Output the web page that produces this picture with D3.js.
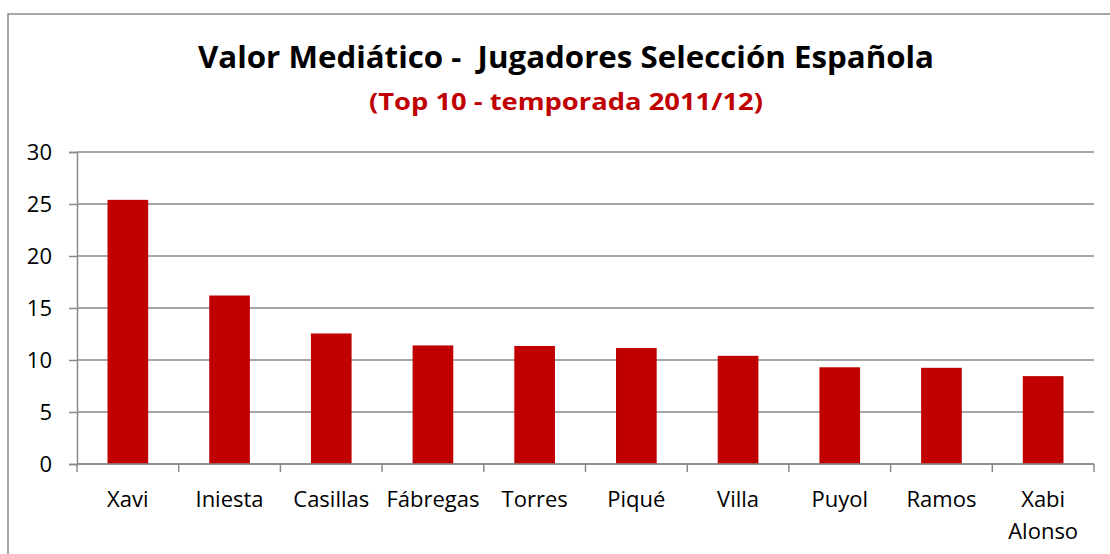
<!DOCTYPE html>
<html>
<head>
<meta charset="utf-8">
<script src="https://cdn.jsdelivr.net/npm/d3@7"></script>
<style>
  body { margin: 0; background: #fff; }
  svg { display: block; font-family: "Open Sans", sans-serif; }
  .titulo { white-space: pre; }
</style>
</head>
<body>
<script>
const jugadores = ["Xavi", "Iniesta", "Casillas", "Fábregas", "Torres", "Piqué", "Villa", "Puyol", "Ramos", "Xabi Alonso"];
const valores = [25.4, 16.2, 12.55, 11.4, 11.35, 11.15, 10.4, 9.3, 9.25, 8.45];
const yTicks = [0, 5, 10, 15, 20, 25, 30];
const titulo = "Valor Mediático -  Jugadores Selección Española";
const subtitulo = "(Top 10 - temporada 2011/12)";

const width = 1110, height = 554;
const gray = "#898989";

const svg = d3.select("body").append("svg")
    .attr("width", width)
    .attr("height", height);

// marco del gráfico (sale por la derecha y por abajo)
svg.append("rect")
    .attr("x", 8).attr("y", 14)
    .attr("width", 1140).attr("height", 600)
    .attr("fill", "none")
    .attr("stroke", gray)
    .attr("stroke-width", 1.5);

const x = d3.scaleBand()
    .domain(jugadores)
    .range([77, 1094])
    .padding(0);

const y = d3.scaleLinear()
    .domain([0, 30])
    .range([464, 152]);

// titulos
svg.append("text")
    .attr("class", "titulo")
    .attr("x", 566).attr("y", 68)
    .attr("text-anchor", "middle")
    .attr("font-size", 31)
    .attr("font-weight", "bold")
    .attr("textLength", 736)
    .attr("lengthAdjust", "spacingAndGlyphs")
    .attr("fill", "#000")
    .text(titulo);

svg.append("text")
    .attr("x", 566).attr("y", 110)
    .attr("text-anchor", "middle")
    .attr("font-size", 24)
    .attr("font-weight", "bold")
    .attr("textLength", 394)
    .attr("lengthAdjust", "spacingAndGlyphs")
    .attr("fill", "#C00000")
    .text(subtitulo);

// lineas de cuadricula
svg.append("g")
  .selectAll("line")
  .data(yTicks)
  .join("line")
    .attr("x1", x.range()[0])
    .attr("x2", x.range()[1])
    .attr("y1", d => y(d))
    .attr("y2", d => y(d))
    .attr("stroke", gray)
    .attr("stroke-width", 1.5);

// eje Y
const yAxis = svg.append("g")
    .attr("transform", `translate(${x.range()[0]},0)`)
    .call(d3.axisLeft(y).tickValues(yTicks).tickSize(8).tickPadding(17).tickFormat(d3.format("d")));
yAxis.select(".domain").attr("stroke", gray).attr("stroke-width", 1.5);
yAxis.selectAll(".tick line").attr("stroke", gray).attr("stroke-width", 1.5);
yAxis.selectAll(".tick text")
    .attr("font-size", 22)
    .attr("font-family", "Open Sans, sans-serif")
    .attr("fill", "#000");

// barras
svg.append("g")
  .selectAll("rect")
  .data(valores)
  .join("rect")
    .attr("x", (d, i) => x(jugadores[i]) + x.bandwidth() * 0.3)
    .attr("width", x.bandwidth() * 0.4)
    .attr("y", d => y(d))
    .attr("height", d => y(0) - y(d))
    .attr("fill", "#C00000");

// eje X
const bordes = jugadores.map(d => x(d)).concat([x.range()[1]]);
const gx = svg.append("g");
gx.append("line")
    .attr("x1", x.range()[0]).attr("x2", x.range()[1])
    .attr("y1", y(0)).attr("y2", y(0))
    .attr("stroke", gray).attr("stroke-width", 1.5);
gx.selectAll(".tk")
  .data(bordes)
  .join("line")
    .attr("class", "tk")
    .attr("x1", d => d).attr("x2", d => d)
    .attr("y1", y(0)).attr("y2", y(0) + 8)
    .attr("stroke", gray).attr("stroke-width", 1.5);

const labels = gx.selectAll(".lbl")
  .data(jugadores)
  .join("text")
    .attr("class", "lbl")
    .attr("text-anchor", "middle")
    .attr("font-size", 22)
    .attr("fill", "#000");

labels.each(function(d) {
  const words = d === "Xabi Alonso" ? ["Xabi", "Alonso"] : [d];
  const t = d3.select(this);
  words.forEach((w, i) => {
    t.append("tspan")
      .attr("x", x(d) + x.bandwidth() / 2)
      .attr("y", 507 + i * 32)
      .text(w);
  });
});
</script>
</body>
</html>
